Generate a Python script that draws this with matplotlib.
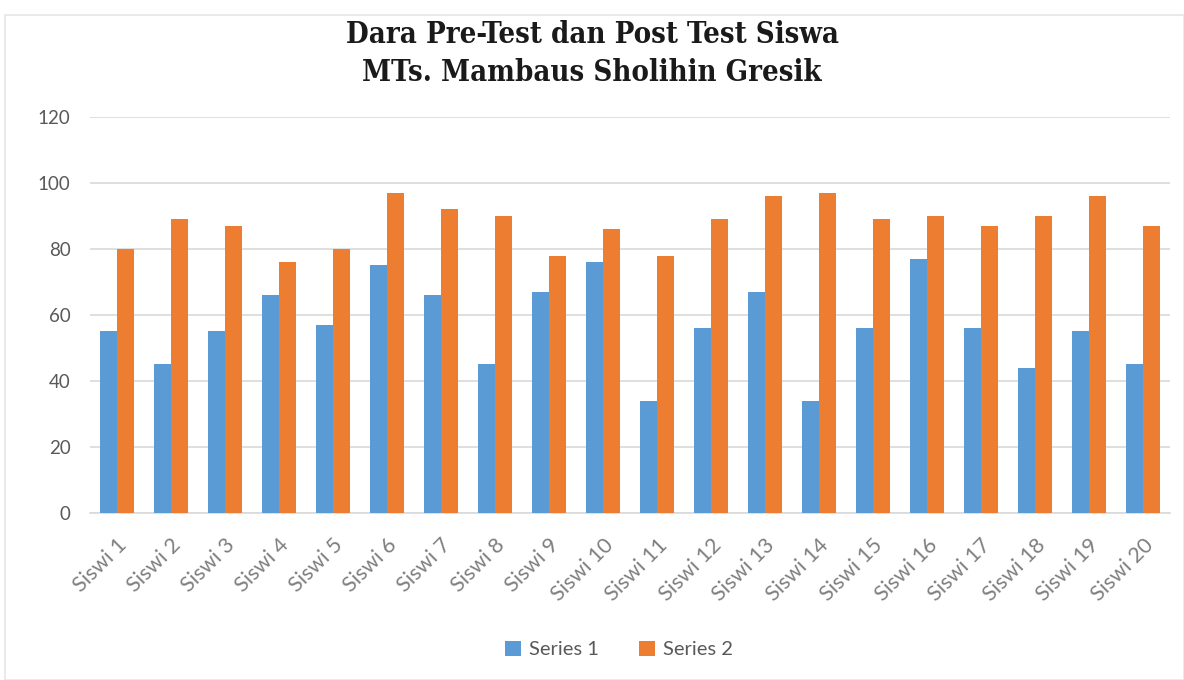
import matplotlib
matplotlib.use("Agg")
import matplotlib.pyplot as plt
import numpy as np
from matplotlib.patches import Rectangle

categories = [f"Siswi {i}" for i in range(1, 21)]
series1 = [55, 45, 55, 66, 57, 75, 66, 45, 67, 76, 34, 56, 67, 34, 56, 77, 56, 44, 55, 45]
series2 = [80, 89, 87, 76, 80, 97, 92, 90, 78, 86, 78, 89, 96, 97, 89, 90, 87, 90, 96, 87]
yticks = [0, 20, 40, 60, 80, 100, 120]

fig = plt.figure(figsize=(11.84, 6.8), dpi=100)
ax = fig.add_axes([0.076, 0.2456, 0.912, 0.5824])

x = np.arange(len(categories))
w = 0.315
ax.bar(x - w/2, series1, w, color="#5b9bd5", label="Series 1", zorder=3)
ax.bar(x + w/2, series2, w, color="#ed7d31", label="Series 2", zorder=3)

ax.set_xlim(-0.5, len(categories) - 0.5)
ax.set_ylim(0, 120)
ax.set_yticks(yticks)
ax.set_yticklabels([str(v) for v in yticks], fontsize=13.5, color="#595959", family="Lato")
ax.yaxis.grid(True, color="#d9d9d9", linewidth=1.2, zorder=0)
ax.tick_params(axis="both", length=0)
ax.tick_params(axis="y", pad=14)
for s in ["top", "right", "left"]:
    ax.spines[s].set_visible(False)
ax.spines["bottom"].set_color("#d9d9d9")
ax.spines["bottom"].set_linewidth(1.2)

ax.set_xticks(x)
ax.set_xticklabels(categories, rotation=45, ha="right", rotation_mode="anchor",
                   fontsize=15.5, color="#7f7f7f", family="Lato")
ax.tick_params(axis="x", pad=16)

title_kw = dict(ha="center", va="center", fontsize=21, fontweight="bold",
                family="DejaVu Serif", fontstretch="condensed", color="#1a1a1a")
fig.text(0.5, 0.949, "Dara Pre-Test dan Post Test Siswa", **title_kw)
fig.text(0.5, 0.894, "MTs. Mambaus Sholihin Gresik", **title_kw)

leg = fig.legend(loc="center", bbox_to_anchor=(0.523, 0.045), ncol=2, frameon=False,
                 prop={"family": "Lato", "size": 14.5}, handlelength=0.8, handleheight=0.8,
                 columnspacing=2.0, handletextpad=0.4)
for t in leg.get_texts():
    t.set_color("#595959")

fig.patches.append(Rectangle((0.004, 0.0), 0.996, 0.978, transform=fig.transFigure,
                             fill=False, edgecolor="#e6e6e6", linewidth=1.2))

fig.savefig("out.png", dpi=100)
